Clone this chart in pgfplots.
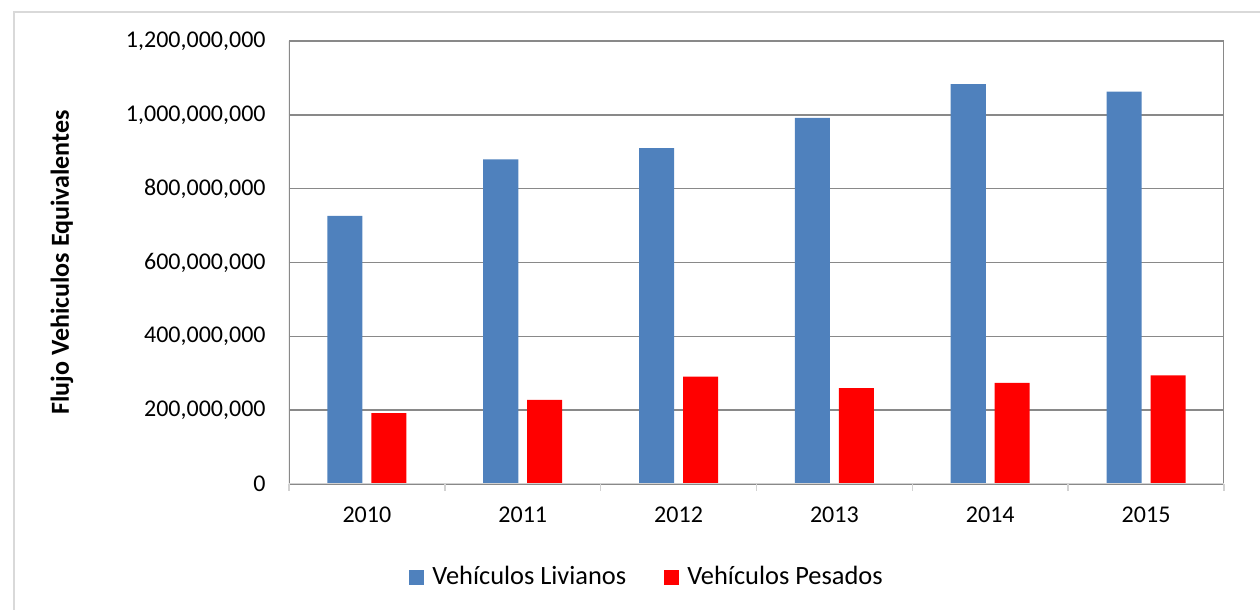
\documentclass[border=0pt]{standalone}
\usepackage{pgfplots}
\pgfplotsset{compat=1.18}
\usepackage{fontspec}
\setmainfont{Carlito}
\definecolor{barblue}{RGB}{79,129,189}
\definecolor{barred}{RGB}{255,0,0}
\definecolor{gridgray}{RGB}{137,137,137}
\definecolor{lightaxis}{RGB}{210,210,210}
\definecolor{framegray}{RGB}{217,217,217}
\begin{document}
\begin{tikzpicture}
\useasboundingbox (-144.5pt,-63pt) rectangle (485.5pt,242pt);
\draw[framegray, line width=0.75pt] (-137.5pt,-80pt) -- (-137.5pt,236pt) -- (500pt,236pt);
\begin{axis}[
  scale only axis,
  width=467.5pt, height=221.5pt,
  ybar,
  bar width=0.225,
  xmin=-0.5, xmax=5.5,
  ymin=0, ymax=1200000000,
  xtick={0,1,2,3,4,5},
  xticklabels={2010,2011,2012,2013,2014,2015},
  minor xtick={-0.5,0.5,1.5,2.5,3.5,4.5,5.5},
  ytick={0,200000000,400000000,600000000,800000000,1000000000,1200000000},
  scaled y ticks=false,
  /pgf/number format/fixed,
  /pgf/number format/1000 sep={{,}},
  /pgf/number format/assume math mode=true,
  xticklabel style={font=\fontsize{12pt}{14pt}\selectfont, inner sep=0pt, anchor=north, yshift=-11.5pt},
  yticklabel style={font=\fontsize{12pt}{14pt}\selectfont, inner sep=0pt, anchor=east, xshift=-11.5pt},
  major tick length=0pt,
  minor tick length=3.5pt,
  tick align=outside,
  xtick pos=bottom, ytick pos=left,
  minor x tick style={lightaxis, line width=0.75pt},
  axis line style={draw=none},
  ymajorgrids,
  major grid style={gridgray, line width=0.75pt},
  ylabel={Flujo Vehiculos Equivalentes},
  ylabel style={font=\fontsize{13pt}{15pt}\selectfont\bfseries, at={(axis description cs:0,0.5)}, anchor=center, yshift=113.5pt},
  legend style={at={(0.384,-0.21)}, anchor=center, draw=none, legend columns=2,
    font=\fontsize{13.2pt}{15pt}\selectfont,
    /tikz/every odd column/.append style={column sep=2pt},
    /tikz/every even column/.append style={column sep=17pt}},
  legend image code/.code={\fill[#1] (0pt,-3.75pt) rectangle (7.5pt,3.75pt);},
]
\addplot[fill=barblue, draw=none, bar shift=-0.141] coordinates {
 (0,726000000) (1,879000000) (2,910000000) (3,992000000) (4,1083000000) (5,1063000000)};
\addlegendentry{Vehículos Livianos}
\addplot[fill=barred, draw=none, bar shift=0.141] coordinates {
 (0,192000000) (1,228000000) (2,291000000) (3,260000000) (4,274000000) (5,294000000)};
\addlegendentry{Vehículos Pesados}
\draw[gridgray, line width=0.75pt] (rel axis cs:0,0) -- (rel axis cs:0,1);
\draw[gridgray, line width=0.75pt] (rel axis cs:1,0) -- (rel axis cs:1,1);
\draw[lightaxis, line width=0.75pt] (rel axis cs:0,0) -- (rel axis cs:1,0);
\end{axis}
\end{tikzpicture}
\end{document}
